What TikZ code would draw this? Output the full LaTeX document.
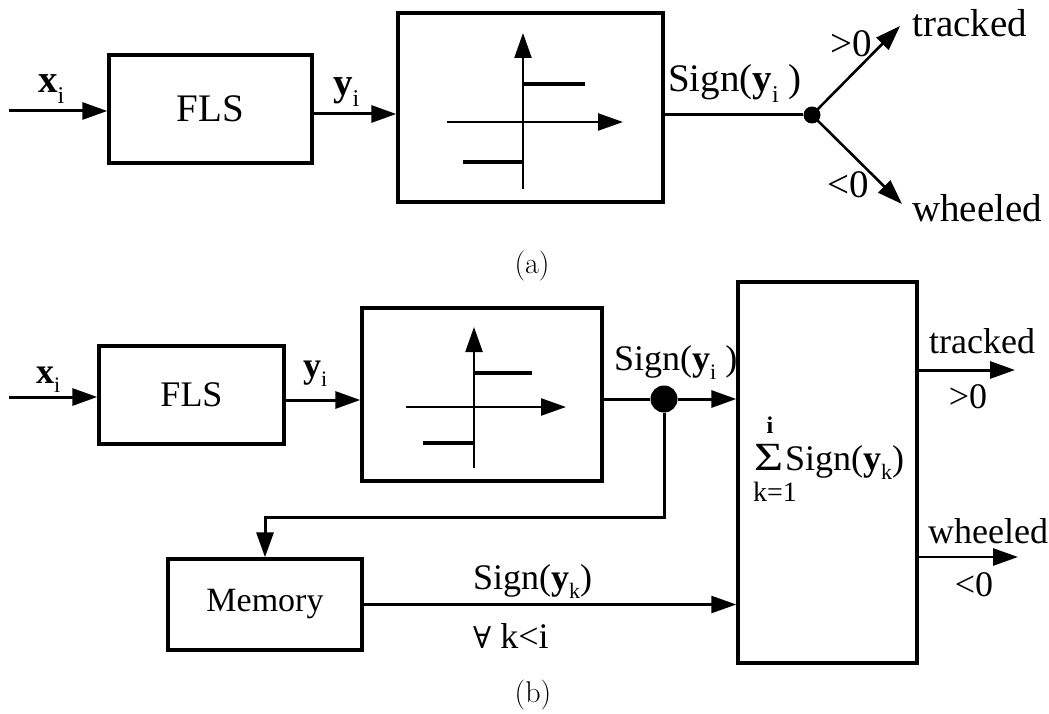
\documentclass[tikz,border=0pt]{standalone}
\usepackage{fontspec}
\setmainfont{Liberation Serif}
\newfontfamily\djserif{DejaVu Serif}
\usetikzlibrary{arrows.meta}
\newcommand\sbs[1]{\raisebox{-0.26em}{\fontsize{24}{24}\selectfont #1}}
\newcommand\sbb[1]{\raisebox{-0.26em}{\fontsize{22}{22}\selectfont #1}}
\begin{document}
\begin{tikzpicture}[x=1pt,y=-1pt,
  box/.style={draw, line width=3.4pt, inner sep=0pt},
  tip/.style={-{Triangle[length=25pt,width=17pt]}},
  arr/.style={line width=3pt, tip},
  thinarr/.style={line width=2.6pt, tip},
  ln/.style={line width=3pt},
  axisln/.style={line width=2.4pt},
  stepln/.style={line width=3.8pt},
  fa/.style={font=\fontsize{39}{44}\selectfont},
  fb/.style={font=\fontsize{36}{40}\selectfont},
  lbl/.style={inner sep=0pt, anchor=base west},
  clbl/.style={inner sep=0pt},
  captext/.style={inner sep=0pt, font=\fontfamily{lmr}\fontsize{30}{32}\selectfont}]
\useasboundingbox (0,0) rectangle (1049,714);

% ---------------- (a) ----------------
\node[box, fa, minimum width=203pt, minimum height=108pt] (flsa) at (210.5,109) {FLS};
\node[box, minimum width=265pt, minimum height=189pt] (sga) at (530.5,107.5) {};
\coordinate (ina) at (9,111);
\draw[arr] (ina) -- (ina -| flsa.west);
\coordinate (ya) at (0,114);
\draw[arr] (flsa.east |- ya) -- (sga.west |- ya);
\node[lbl, fa] (xla) at (38,93) {\textbf{x}\sbs{i}};
\node[lbl, fa] (yla) at (333,96) {\textbf{y}\sbs{i}};
% sign characteristic
\draw[axisln, tip] (523,189) -- (523,33);
\draw[stepln] (523,84) -- (585,84);
\draw[axisln, tip] (447,122) -- (623,122);
\draw[stepln] (463,162) -- (523,162);
% output split
\node[circle, fill, inner sep=0pt, minimum size=17pt] (dota) at (812,115) {};
\draw[ln] (sga.east |- dota) -- (dota);
\node[lbl, fa] (sgla) at (668,92) {Sign(\textbf{y}\sbs{i} )};
\coordinate (tra) at (900,26);
\coordinate (wha) at (902,204);
\draw[thinarr] (dota.center) -- (tra);
\draw[thinarr] (dota.center) -- (wha);
\node[clbl, fa] (gta) at (851,44) {>0};
\node[clbl, fa] (lta) at (848,185) {<0};
\node[lbl, fa] (tka) at (912,37) {tracked};
\node[lbl, fa] (wha2) at (912,222) {wheeled};
\node[captext] (capa) at (532,266) {(a)};

% ---------------- (b) ----------------
\node[box, fb, minimum width=185pt, minimum height=98pt] (flsb) at (191.5,395) {FLS};
\node[box, minimum width=240pt, minimum height=173pt] (sgb) at (482,394.5) {};
\node[box, minimum width=179pt, minimum height=381pt] (sum) at (827.5,472.5) {};
\node[box, font=\fontsize{34}{38}\selectfont, minimum width=194pt, minimum height=91pt] (mem) at (265,604.5) {Memory};
\coordinate (inb) at (9,397);
\draw[arr] (inb) -- (inb -| flsb.west);
\coordinate (yb) at (0,400);
\draw[arr] (flsb.east |- yb) -- (sgb.west |- yb);
\node[lbl, fb] (xlb) at (36,383) {\textbf{x}\sbb{i}};
\node[lbl, fb] (ylb) at (303,377) {\textbf{y}\sbb{i}};
% sign characteristic
\draw[axisln, tip] (474,468) -- (474,327);
\draw[stepln] (474,373) -- (532,373);
\draw[axisln, tip] (406,407) -- (566,407);
\draw[stepln] (423,443) -- (474,443);
% branch point
\node[circle, fill, inner sep=0pt, minimum size=27pt] (dotb) at (664,399) {};
\draw[ln] (sgb.east |- dotb) -- (dotb);
\draw[arr] (dotb.east) -- (sum.west |- dotb);
\node[lbl, fb] (sglb) at (614,370) {Sign(\textbf{y}\sbb{i} )};
\coordinate (fbk) at (400,517);
\draw[arr] (dotb.south) |- (fbk) -| (mem.north);
% memory output
\draw[thinarr] (mem.east) -- (sum.west |- mem.east);
\node[lbl, fb] (sgk) at (473,589) {Sign(\textbf{y}\sbb{k})};
\node[lbl, fb] (fa2) at (473,648) {{\djserif\fontsize{30}{34}\selectfont ∀} k<i};
% sum contents
\node[lbl, font=\fontsize{40}{42}\selectfont] (sig) at (754,470) {\scalebox{1.25}[1]{Σ}};
\node[clbl, anchor=south, font=\fontsize{24}{24}\selectfont] (supi) at (770,434) {\textbf{i}};
\node[clbl, font=\fontsize{28}{28}\selectfont] (subk) at (775,492) {k=1};
\node[lbl, fb] (sgs) at (785,470) {Sign(\textbf{y}\sbb{k})};
% outputs
\coordinate (trb) at (1015,370);
\coordinate (whb) at (1018,557);
\draw[arr] (sum.east |- trb) -- (trb);
\draw[thinarr] (sum.east |- whb) -- (whb);
\node[lbl, fb] (tkb) at (929,353) {tracked};
\node[clbl, fb] (gtb) at (968,397) {>0};
\node[lbl, fb] (whlb) at (928,543) {wheeled};
\node[clbl, fb] (ltb) at (974,585) {<0};
\node[captext] (capb) at (533,695) {(b)};
\end{tikzpicture}
\end{document}
